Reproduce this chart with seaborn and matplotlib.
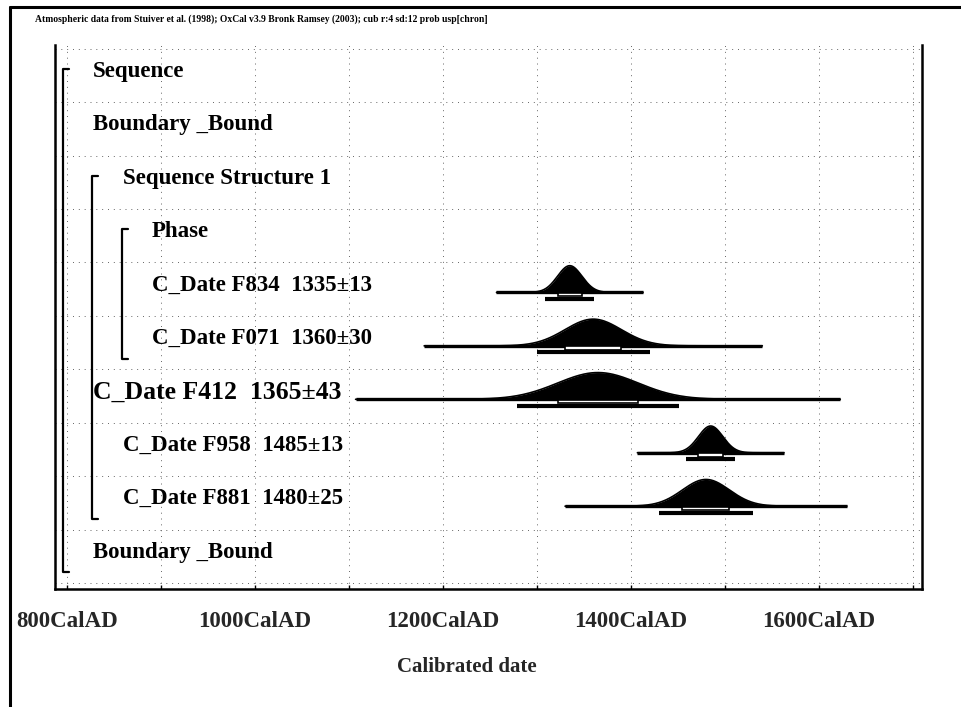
import numpy as np
import pandas as pd
import matplotlib
matplotlib.use("Agg")
import matplotlib.pyplot as plt
import matplotlib.transforms as mtransforms
from matplotlib.lines import Line2D
from matplotlib.patches import Rectangle
import seaborn as sns

# ---- model structure (one row per line of the OxCal plot) ----
row_labels = [
    "Sequence",
    "Boundary _Bound",
    "Sequence Structure 1",
    "Phase",
    "C_Date F834  1335±13",
    "C_Date F071  1360±30",
    "C_Date F412  1365±43",
    "C_Date F958  1485±13",
    "C_Date F881  1480±25",
    "Boundary _Bound",
]
row_indent = [0, 0, 1, 2, 2, 2, 0, 1, 1, 0]
row_fontsize = [16.5, 16.5, 16.5, 16.5, 16.5, 16.5, 18.5, 16.5, 16.5, 16.5]

# calendar dates: row index, mean and standard deviation (years AD)
date_rows = [4, 5, 6, 7, 8]
date_names = ["F834", "F071", "F412", "F958", "F881"]
date_mean = [1335, 1360, 1365, 1485, 1480]
date_sd = [13, 30, 43, 13, 25]

# structure brackets: first row, last row, nesting level
bracket_top = [0, 2, 3]
bracket_bottom = [9, 8, 5]
bracket_level = [0, 1, 2]

tick_years = [800, 1000, 1200, 1400, 1600]
grid_years = [900, 1000, 1100, 1200, 1300, 1400, 1500, 1600, 1700]

header = ("Atmospheric data from Stuiver et al. (1998); OxCal v3.9 Bronk Ramsey (2003); "
          "cub r:4 sd:12 prob usp[chron]")

# ---- style ----
sns.set_theme(style="white")
plt.rcParams["font.family"] = ["Liberation Serif", "DejaVu Serif"]
plt.rcParams["font.weight"] = "bold"

W, H = 961, 707
fig = plt.figure(figsize=(W / 100, H / 100), dpi=100)
ax = fig.add_axes([55 / W, 1 - 589 / H, 867 / W, 544 / H])

BASE = 0.56      # baseline offset inside a row
PEAK = 0.50      # peak height of each distribution (rows)

# density curves built from each date's mean and sd
frames = []
for r, name, mu, sd in zip(date_rows, date_names, date_mean, date_sd):
    yrs = np.linspace(mu - 6 * sd, mu + 6 * sd, 400)
    dens = np.exp(-0.5 * ((yrs - mu) / sd) ** 2)
    frames.append(pd.DataFrame({"year": yrs, "ytop": r + BASE - PEAK * dens,
                                "base": r + BASE, "name": name}))
curves = pd.concat(frames, ignore_index=True)

for name, g in curves.groupby("name", sort=False):
    ax.fill_between(g["year"], g["base"], g["ytop"], color="black", lw=0)
sns.lineplot(data=curves, x="year", y="ytop", units="name", estimator=None,
             color="black", lw=1.2, ax=ax, legend=False)

for r, mu, sd in zip(date_rows, date_mean, date_sd):
    # full plotted range
    ax.hlines(r + BASE, mu - 6 * sd, mu + 6 * sd, color="black", lw=2.4)
    # 68.2% range (open box) and 95.4% range (solid bar)
    ax.add_patch(Rectangle((mu - sd, r + BASE + 0.01), 2 * sd, 0.065,
                           facecolor="white", edgecolor="black", lw=1.2, zorder=3))
    ax.hlines(r + BASE + 0.12, mu - 2 * sd, mu + 2 * sd, color="black", lw=3.0, zorder=3)

# row labels
indent_x = [0.044, 0.078, 0.112]
label_tf = mtransforms.blended_transform_factory(ax.transAxes, ax.transData)
for i, (lab, lev, fs) in enumerate(zip(row_labels, row_indent, row_fontsize)):
    ax.text(indent_x[lev], i + 0.42, lab, transform=label_tf, fontsize=fs,
            fontweight="bold", va="center", ha="left", color="black")

# structure brackets
bracket_x = [0.0092, 0.0427, 0.0773]
for t, b, lev in zip(bracket_top, bracket_bottom, bracket_level):
    x0 = bracket_x[lev]
    ys = [t + 0.38, b + 0.80]
    ax.plot([x0 + 0.007, x0, x0, x0 + 0.007], [ys[0], ys[0], ys[1], ys[1]],
            transform=label_tf, color="black", lw=1.6, clip_on=False)

# axes, ticks and grid
ax.set_xlim(787, 1710)
ax.set_ylim(10.11, -0.07)
ax.set_xticks(tick_years)
ax.set_xticklabels([f"{v}CalAD" for v in tick_years])
ax.set_xticks(grid_years, minor=True)
ax.set_yticks(range(11))
ax.set_yticklabels([])
ax.tick_params(axis="y", length=0)
ax.tick_params(axis="x", which="both", direction="in", length=3, width=1.0,
               color="black", bottom=True, labelsize=16.5, pad=16)
for lab in ax.get_xticklabels():
    lab.set_fontweight("bold")
ax.grid(True, which="both", axis="x", color="#666666", lw=0.7, ls=(0, (1, 5)))
ax.grid(True, which="major", axis="y", color="#666666", lw=0.7, ls=(0, (1, 5)))
ax.set_xlabel("Calibrated date", fontsize=15, fontweight="bold")
ax.xaxis.set_label_coords(0.475, -0.125)
ax.set_ylabel("")

ax.spines["top"].set_visible(False)
for s in ["left", "right", "bottom"]:
    ax.spines[s].set_visible(True)
    ax.spines[s].set_color("black")
    ax.spines[s].set_linewidth(1.8)

# page frame and header line
fig.add_artist(Line2D([10 / W, 1], [1 - 7 / H, 1 - 7 / H], transform=fig.transFigure,
                      color="black", lw=2.2))
fig.add_artist(Line2D([10 / W, 10 / W], [0, 1 - 7 / H], transform=fig.transFigure,
                      color="black", lw=2.2))
fig.text(35 / W, 1 - 19 / H, header, fontsize=6.9, fontweight="bold", va="center",
         ha="left", color="black")

fig.savefig("out.png", dpi=100, facecolor="white")
